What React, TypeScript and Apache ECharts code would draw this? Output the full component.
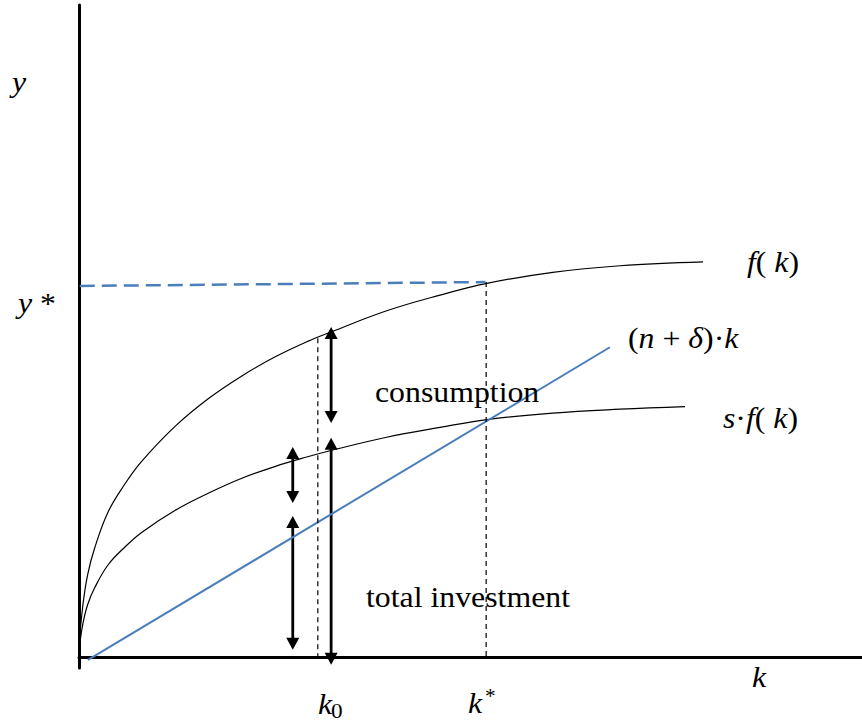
import React, { useEffect, useRef } from "react";
import * as echarts from "echarts";

// production function f(k)
const fK = [0, 0.01, 0.05, 0.11, 0.2, 0.37, 0.59, 0.8, 1.23, 1.65, 2.08, 2.5, 2.92, 3.23, 3.93, 4.61, 5.21, 6.05, 6.91, 7.97];
const fY = [0, 0.31, 0.8, 1.26, 1.67, 2.22, 2.66, 3.0, 3.54, 3.96, 4.31, 4.6, 4.84, 4.99, 5.31, 5.55, 5.73, 5.9, 6.0, 6.06];

// saving curve s·f(k)
const sfK = [0, 0.01, 0.05, 0.11, 0.2, 0.37, 0.59, 0.8, 1.23, 1.65, 2.08, 2.5, 2.92, 3.23, 3.93, 4.61, 5.21, 6.05, 6.91, 7.74];
const sfY = [0, 0.2, 0.51, 0.8, 1.06, 1.41, 1.69, 1.91, 2.25, 2.51, 2.74, 2.92, 3.07, 3.17, 3.37, 3.52, 3.64, 3.74, 3.8, 3.84];

// break-even investment (n + δ)·k
const lineK = [0.115, 6.78];
const lineY = [-0.046, 4.75];

// y* guide
const yStarK = [0.01, 5.19];
const yStarY = [5.69, 5.75];

// k0 and k* guides
const k0 = 3.05;
const k0Y = [4.89, -0.06];
const kStar = 5.2;
const kStarY = [5.75, 0];

// double arrows
const arrowK = [3.22, 3.22, 2.73, 2.73];
const arrowTop = [5.06, 3.36, 3.22, 2.16];
const arrowBottom = [3.59, -0.12, 2.36, 0.11];

const BLUE = "#4A7EBB";
const FONT = "Liberation Serif";
const FS = 30;

const pairs = (xs: number[], ys: number[]) => xs.map((x, i) => [x, ys[i]]);

const txt = (x: number, baseline: number, text: string, fs = FS) => ({
  type: "text",
  x,
  y: baseline - fs * 0.33,
  scaleX: 1.06,
  z: 10,
  style: {
    text,
    fontFamily: FONT,
    fontSize: fs,
    fill: "#000",
    textAlign: "left",
    verticalAlign: "middle",
    textVerticalAlign: "middle",
    rich: {
      i: { fontStyle: "italic", fontFamily: FONT, fontSize: fs, fill: "#000" },
    },
  },
});

export default function App() {
  const ref = useRef<HTMLDivElement>(null);
  useEffect(() => {
    if (!ref.current) return;
    const chart = echarts.init(ref.current, undefined, { renderer: "svg" });
    const curve = (name: string, data: number[][]) => ({
      name,
      type: "line",
      data,
      smooth: 0.4,
      showSymbol: false,
      silent: true,
      clip: false,
      lineStyle: { color: "#000", width: 1.2 },
    });
    const option: any = {
      animation: false,
      backgroundColor: "#fff",
      grid: { left: 79, right: 0, top: 5, bottom: 57 },
      xAxis: {
        type: "value",
        min: 0,
        max: 10,
        axisLine: { show: true, onZero: true, lineStyle: { color: "#000", width: 3 } },
        axisTick: { show: false },
        axisLabel: { show: false },
        splitLine: { show: false },
      },
      yAxis: {
        type: "value",
        min: -0.17,
        max: 10,
        axisLine: { show: true, onZero: true, lineStyle: { color: "#000", width: 3 } },
        axisTick: { show: false },
        axisLabel: { show: false },
        splitLine: { show: false },
      },
      series: [
        curve("f(k)", pairs(fK, fY)),
        curve("s·f(k)", pairs(sfK, sfY)),
        {
          name: "(n+δ)k",
          type: "line",
          data: pairs(lineK, lineY),
          showSymbol: false,
          silent: true,
          clip: false,
          lineStyle: { color: BLUE, width: 2 },
        },
        {
          name: "y*",
          type: "line",
          data: pairs(yStarK, yStarY),
          showSymbol: false,
          silent: true,
          clip: false,
          lineStyle: { color: BLUE, width: 2.5, type: [15, 7] },
        },
        {
          name: "k0 guide",
          type: "line",
          data: k0Y.map((y) => [k0, y]),
          showSymbol: false,
          silent: true,
          clip: false,
          lineStyle: { color: "#000", width: 1.2, type: [5, 4] },
        },
        {
          name: "k* guide",
          type: "line",
          data: kStarY.map((y) => [kStar, y]),
          showSymbol: false,
          silent: true,
          clip: false,
          lineStyle: { color: "#000", width: 1.2, type: [5, 4] },
        },
        {
          name: "arrows",
          type: "custom",
          silent: true,
          clip: false,
          encode: { x: 0, y: [1, 2] },
          data: arrowK.map((k, i) => [k, arrowTop[i], arrowBottom[i]]),
          renderItem: (params: any, api: any) => {
            const k = api.value(0);
            const p1 = api.coord([k, api.value(1)]);
            const p2 = api.coord([k, api.value(2)]);
            const x = p1[0];
            const hw = 6.5;
            const hh = 12;
            return {
              type: "group",
              children: [
                {
                  type: "line",
                  shape: { x1: x, y1: p1[1] + hh - 1, x2: x, y2: p2[1] - hh + 1 },
                  style: { stroke: "#000", lineWidth: 2.8 },
                },
                {
                  type: "polygon",
                  shape: { points: [[x, p1[1]], [x - hw, p1[1] + hh], [x + hw, p1[1] + hh]] },
                  style: { fill: "#000" },
                },
                {
                  type: "polygon",
                  shape: { points: [[x, p2[1]], [x - hw, p2[1] - hh], [x + hw, p2[1] - hh]] },
                  style: { fill: "#000" },
                },
              ],
            };
          },
        },
      ],
      graphic: [
        txt(12, 92, "{i|y}"),
        txt(18, 313, "{i|y} *"),
        txt(747, 272, "{i|f}( {i|k})"),
        txt(628, 348, "({i|n} + {i|δ})·{i|k}"),
        txt(723, 428, "{i|s}·{i|f}( {i|k})"),
        txt(375, 402, "consumption"),
        txt(366, 607, "total investment"),
        txt(752, 687, "{i|k}"),
        txt(318, 714, "{i|k}"),
        txt(331, 718, "0", 22),
        txt(468, 713, "{i|k}"),
        txt(485, 703, "*", 20),
      ],
    };
    chart.setOption(option);
    return () => chart.dispose();
  }, []);
  return (
    <div
      ref={ref}
      style={{ position: "absolute", left: 0, top: 0, width: 862, height: 725 }}
    />
  );
}
